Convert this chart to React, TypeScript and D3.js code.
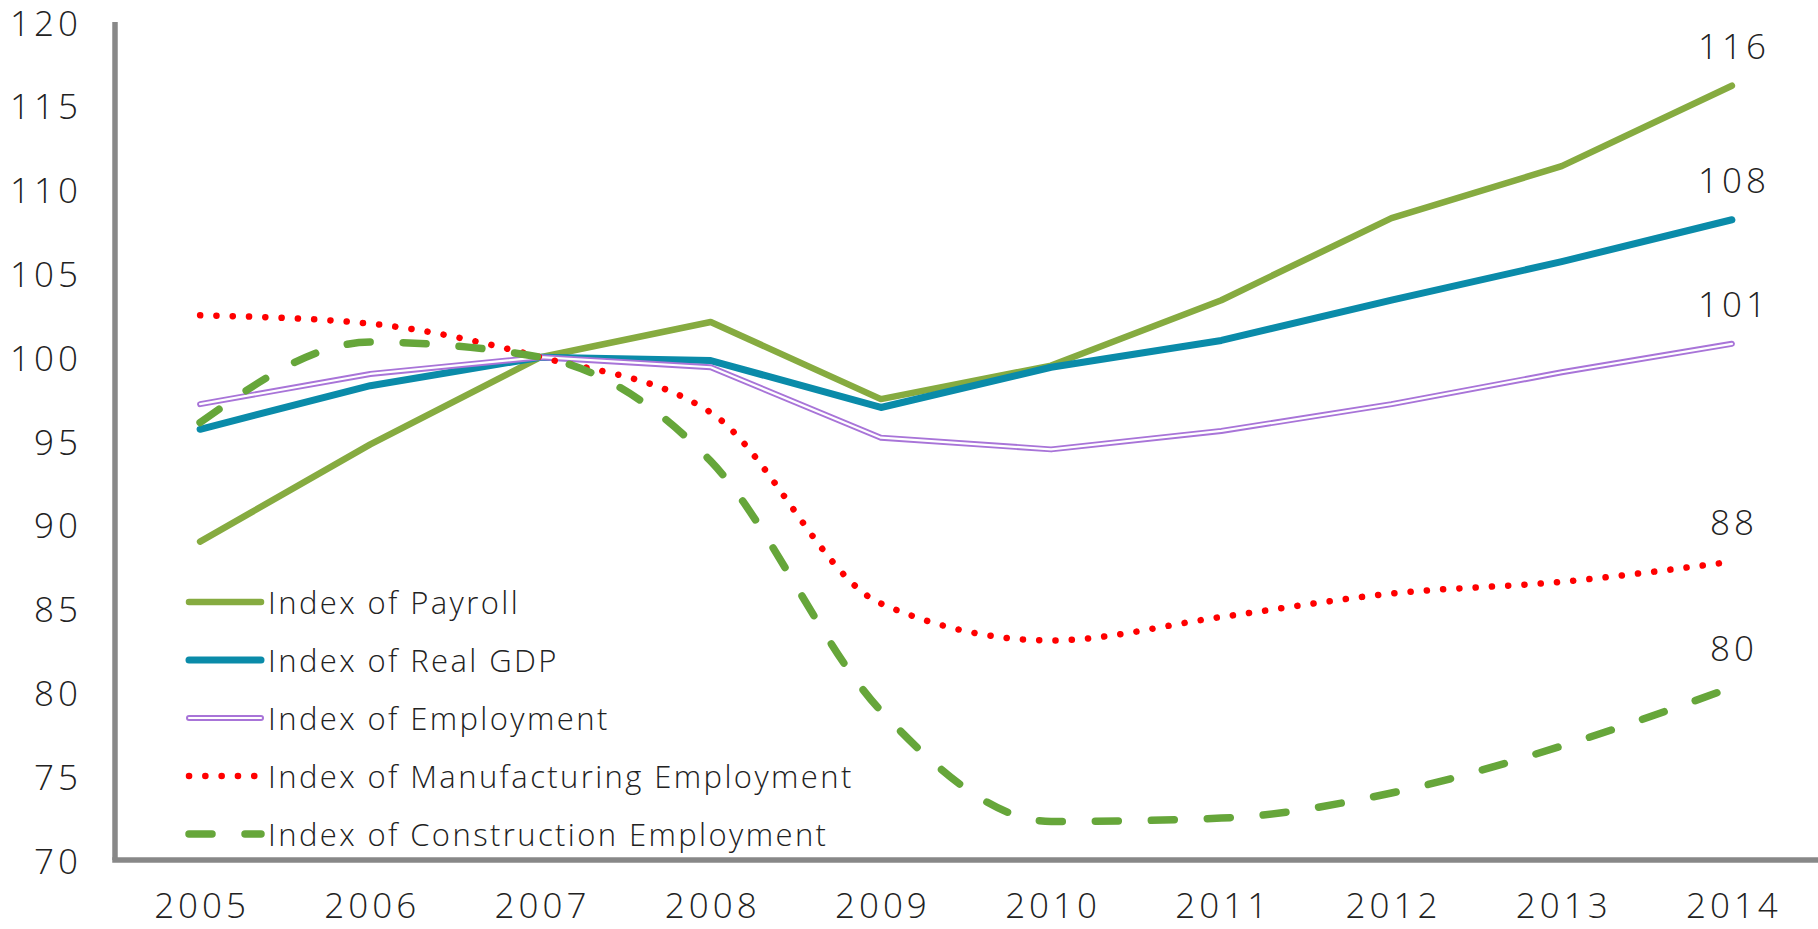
import React from "react";
import * as d3 from "d3";

const years = ["2005", "2006", "2007", "2008", "2009", "2010", "2011", "2012", "2013", "2014"];
const payroll = [89.0, 94.8, 100, 102.1, 97.5, 99.5, 103.4, 108.3, 111.4, 116.2];
const realGDP = [95.7, 98.3, 100, 99.8, 97.0, 99.4, 101.0, 103.4, 105.7, 108.2];
const employment = [97.2, 99.0, 100, 99.4, 95.2, 94.5, 95.6, 97.2, 99.1, 100.8];
const manufacturing = [102.5, 102.0, 100, 96.7, 85.3, 83.1, 84.5, 85.9, 86.6, 87.8];
const construction = [96.1, 100.9, 100, 93.8, 78.9, 72.3, 72.5, 74.0, 76.8, 80.3];
const endLabels = ["116", "108", "101", "88", "80"];
const yTicks = [70, 75, 80, 85, 90, 95, 100, 105, 110, 115, 120];
const seriesNames = [
  "Index of Payroll",
  "Index of Real GDP",
  "Index of Employment",
  "Index of Manufacturing Employment",
  "Index of Construction Employment",
];

const W = 1818;
const H = 929;
const FONT = "'Open Sans', sans-serif";
const TXT = "#222";
const NUM_SIZE = 35;
const NUM_LS = 4;

type Style = {
  color: string;
  width: number;
  dash?: string;
  double?: boolean;
  smooth?: boolean;
};

const styles: Style[] = [
  { color: "#86AB40", width: 6.5 },
  { color: "#0A8BA9", width: 7 },
  { color: "#A874D8", width: 6, double: true },
  { color: "#FF0000", width: 6.5, dash: "0.1 16.2", smooth: true },
  { color: "#66A63A", width: 7.5, dash: "23 33", smooth: true },
];

export default function App() {
  const x = d3.scalePoint<string>().domain(years).range([115, 1817]).padding(0.5);
  const y = d3.scaleLinear().domain([70, 120]).range([860, 22]);
  const data = [payroll, realGDP, employment, manufacturing, construction];

  const mkLine = (smooth?: boolean) =>
    d3
      .line<number>()
      .x((_, i) => x(years[i]) as number)
      .y((d) => y(d))
      .curve(smooth ? d3.curveMonotoneX : d3.curveLinear);

  const legendX0 = 189;
  const legendX1 = 261;
  const legendY0 = 602;
  const legendStep = 58;

  const renderStroke = (s: Style, d: string, key: string) => (
    <g key={key}>
      <path
        d={d}
        fill="none"
        stroke={s.color}
        strokeWidth={s.width}
        strokeDasharray={s.dash}
        strokeLinecap="round"
        strokeLinejoin="round"
      />
      {s.double && (
        <path
          d={d}
          fill="none"
          stroke="#fff"
          strokeWidth={2.2}
          strokeLinecap="round"
          strokeLinejoin="round"
        />
      )}
    </g>
  );

  return (
    <svg
      width={W}
      height={H}
      style={{ position: "absolute", left: 0, top: 0, background: "#fff" }}
      fontFamily={FONT}
    >
      {/* axes */}
      <line x1={115} y1={22} x2={115} y2={860} stroke="#888" strokeWidth={5.5} />
      <line x1={112.25} y1={860} x2={1818} y2={860} stroke="#888" strokeWidth={5.5} />

      {/* y tick labels */}
      {yTicks.map((t) => (
        <text
          key={t}
          x={78 + NUM_LS}
          y={y(t)}
          textAnchor="end"
          dominantBaseline="central"
          fontSize={NUM_SIZE}
          fontWeight={300}
          letterSpacing={NUM_LS}
          fill={TXT}
        >
          {t}
        </text>
      ))}

      {/* x tick labels */}
      {years.map((yr) => (
        <text
          key={yr}
          x={(x(yr) as number) + NUM_LS / 2}
          y={918}
          textAnchor="middle"
          fontSize={NUM_SIZE}
          fontWeight={300}
          letterSpacing={NUM_LS}
          fill={TXT}
        >
          {yr}
        </text>
      ))}

      {/* series lines */}
      {data.map((vals, i) => renderStroke(styles[i], mkLine(styles[i].smooth)(vals) as string, "s" + i))}

      {/* end labels */}
      {data.map((vals, i) => (
        <text
          key={"e" + i}
          x={(x(years[years.length - 1]) as number) + NUM_LS / 2}
          y={y(vals[vals.length - 1]) - 40}
          textAnchor="middle"
          dominantBaseline="central"
          fontSize={NUM_SIZE}
          fontWeight={300}
          letterSpacing={NUM_LS}
          fill={TXT}
        >
          {endLabels[i]}
        </text>
      ))}

      {/* legend */}
      {seriesNames.map((name, i) => {
        const ly = legendY0 + i * legendStep;
        const d = `M${legendX0},${ly}L${legendX1},${ly}`;
        return (
          <g key={"l" + i}>
            {renderStroke(styles[i], d, "ls" + i)}
            <text
              x={268}
              y={ly}
              dominantBaseline="central"
              fontSize={31}
              fontWeight={300}
              letterSpacing={2.4}
              fill={TXT}
            >
              {name}
            </text>
          </g>
        );
      })}
    </svg>
  );
}
